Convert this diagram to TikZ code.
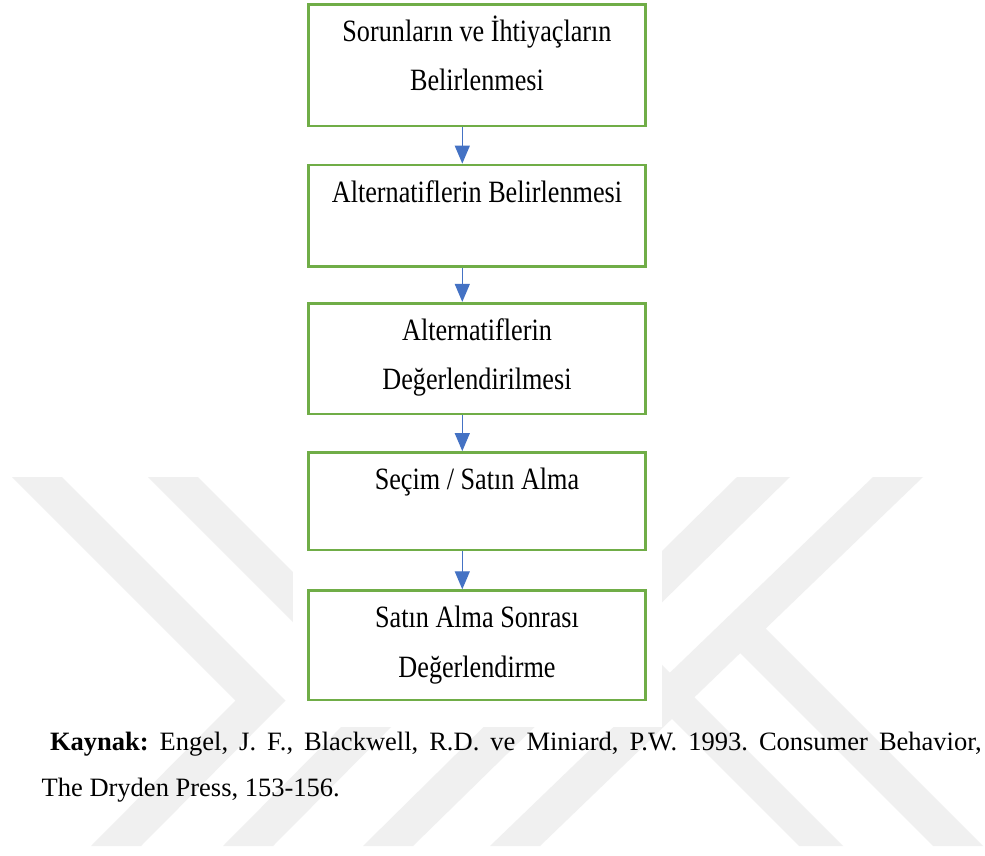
\documentclass[tikz,border=0pt]{standalone}
\usepackage{fontspec}
\setmainfont{Liberation Serif}
\newfontfamily\boxfont[FakeStretch=0.845]{Liberation Serif}
\usetikzlibrary{arrows.meta}
\definecolor{boxgreen}{HTML}{70AD47}
\definecolor{arrblue}{HTML}{4472C4}
\definecolor{wmgray}{RGB}{240,240,240}
\newcommand{\boxtext}[2]{\parbox[c][#1][t]{337.4pt}{\centering\boxfont\fontsize{31pt}{49.5pt}\selectfont\rule{0pt}{37pt}#2}}
\tikzset{
  stagebox/.style={draw=boxgreen, line width=2.7pt, inner sep=0pt, outer sep=0pt, anchor=north, fill=white},
  flowarrow/.style={draw=arrblue, line width=1.2pt, -{Triangle[length=18pt,width=15pt]}, fill=arrblue, shorten >=1.4pt, shorten <=1.4pt},
  wmark/.style={fill=wmgray, draw=none},
  captext/.style={inner sep=0pt, outer sep=0pt, anchor=base west, font=\fontsize{26.5pt}{32pt}\selectfont}
}
\begin{document}
\frenchspacing
\begin{tikzpicture}[x=1pt,y=-1pt]
\useasboundingbox (0,0) rectangle (985,856);
\fill[white] (0,0) rectangle (985,856);
% watermark
\fill[wmark] (12,477) -- (62,477) -- (285.5,700.5) -- (141,846) -- (91,846) -- (235.5,700.5) -- cycle;
\fill[wmark] (148,477) -- (198,477) -- (419.5,698.5) -- (273,846) -- (223,846) -- (369.5,698.5) -- cycle;
\fill[wmark] (737,477) -- (790,477) -- (413,846) -- (363,846) -- cycle;
\fill[wmark] (873,477) -- (923,477) -- (540,846) -- (490,846) -- cycle;
\fill[wmark] (603,650) -- (647,650) -- (843,846) -- (799,846) -- cycle;
\fill[wmark] (757,620) -- (983,846) -- (933,846) -- (730,643) -- cycle;
\fill[white] (293,0) rectangle (662,727);
% stages
\node[stagebox] (b1) at (477,4.3) {\boxtext{121.7pt}{Sorunların ve İhtiyaçların\\Belirlenmesi}};
\node[stagebox] (b2) at (477,165) {\boxtext{101.7pt}{Alternatiflerin Belirlenmesi}};
\node[stagebox] (b3) at (477,303.3) {\boxtext{110.7pt}{Alternatiflerin\\Değerlendirilmesi}};
\node[stagebox] (b4) at (477,452.5) {\boxtext{97.5pt}{Seçim / Satın Alma}};
\node[stagebox] (b5) at (477,590.7) {\boxtext{109.3pt}{Satın Alma Sonrası\\Değerlendirme}};
\coordinate (ax) at (462.3,0);
\draw[flowarrow] (b1.south -| ax) -- (b2.north -| ax);
\draw[flowarrow] (b2.south -| ax) -- (b3.north -| ax);
\draw[flowarrow] (b3.south -| ax) -- (b4.north -| ax);
\draw[flowarrow] (b4.south -| ax) -- (b5.north -| ax);
% caption
\node[captext] (cap1) at (41.7,750) {\makebox[940pt][s]{\hspace*{8.3pt}\textbf{Kaynak:} Engel, J. F., Blackwell, R.D. ve Miniard, P.W. 1993. Consumer Behavior,}};
\node[captext] (cap2) at (41.7,796.7) {The Dryden Press, 153-156.};
\end{tikzpicture}
\end{document}
